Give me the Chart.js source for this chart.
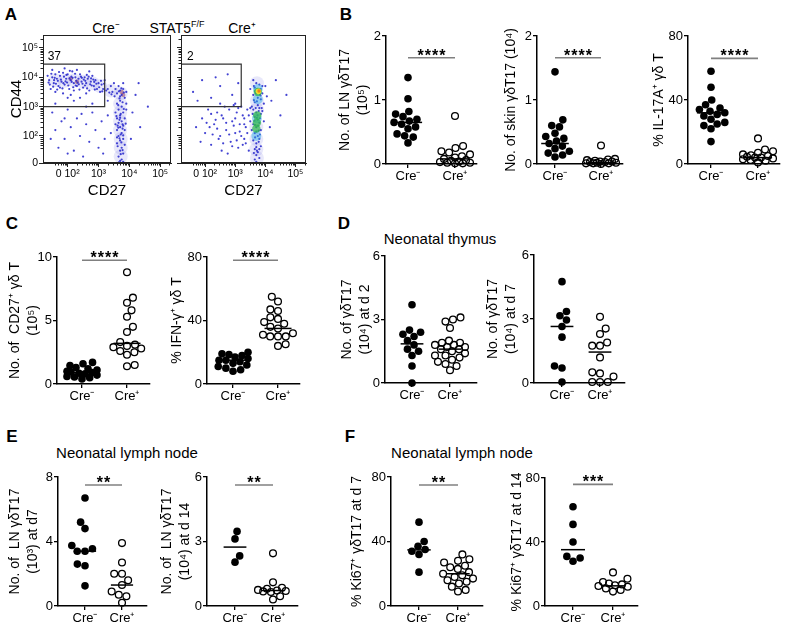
<!DOCTYPE html>
<html><head><meta charset="utf-8">
<script src="https://cdn.jsdelivr.net/npm/chart.js"></script>
<style>
html,body{margin:0;padding:0;background:#fff}
body{width:786px;height:630px;position:relative;overflow:hidden;font-family:"Liberation Sans",Arial,Helvetica,sans-serif;color:#000}
canvas{position:absolute}
.t{position:absolute;transform:translate(-50%,-50%);white-space:nowrap;line-height:1}
.p{position:absolute;transform:translate(-50%,-50%);font-weight:bold;font-size:17px;line-height:1}
sup{font-size:9px;vertical-align:6px;line-height:0}
</style></head><body>
<div class="p" style="left:11px;top:14px">A</div>
<div class="p" style="left:346px;top:14px">B</div>
<div class="p" style="left:12px;top:223px">C</div>
<div class="p" style="left:344px;top:223px">D</div>
<div class="p" style="left:12px;top:436px">E</div>
<div class="p" style="left:350px;top:436px">F</div>
<div class="t" style="left:106px;top:28px;font-size:14px">Cre⁻</div>
<div class="t" style="left:177px;top:28px;font-size:14px">STAT5<sup>F/F</sup></div>
<div class="t" style="left:242px;top:28px;font-size:14px">Cre⁺</div>
<div class="t" style="left:440px;top:238px;font-size:15px">Neonatal thymus</div>
<div class="t" style="left:127px;top:452px;font-size:15px">Neonatal lymph node</div>
<div class="t" style="left:462px;top:452px;font-size:15px">Neonatal lymph node</div>
<script>
// ---------------- DATA ----------------
const categories = ['Cre⁻', 'Cre⁺'];

// Panel A (flow cytometry, axes in log decades)
const flowXTickVals = [2, 3, 4, 5];
const flowXTickLabels = ['0 10²', '10³', '10⁴', '10⁵'];
const flowYTickVals = [1.08, 2, 3, 4, 5];
const flowYTickLabels = ['0', '10²', '10³', '10⁴', '10⁵'];
const gateX = [1.2, 3.2, 3.2, 1.2, 1.2];
const gateY = [3.0, 3.0, 4.45, 4.45, 3.0];
const gatePctNeg = '37';
const gatePctPos = '2';
const creNegEvents = [
[1.4,3.9],[1.5,4.0],[1.55,3.8],[1.6,4.1],[1.65,3.95],[1.7,3.7],[1.75,4.05],[1.8,3.85],[1.85,4.15],[1.9,3.75],
[1.95,3.95],[2.0,4.1],[2.05,3.6],[2.1,3.9],[2.15,4.2],[2.2,3.8],[2.25,4.0],[2.3,3.7],[2.35,3.95],[2.4,4.1],
[2.45,3.85],[2.5,3.65],[2.55,4.0],[2.6,3.8],[2.65,3.95],[2.7,3.55],[2.75,3.85],[2.8,4.05],[2.85,3.7],[2.9,3.9],
[2.95,3.6],[3.0,3.8],[3.05,3.5],[3.1,3.75],[3.15,3.6],[1.45,3.6],[1.6,3.5],[1.85,3.45],[2.1,3.4],[2.4,3.3],
[1.5,4.25],[1.9,4.3],[2.3,4.25],[2.7,4.2],[1.35,4.05],[3.2,3.9],[2.0,3.3],[2.6,3.45],[1.75,3.65],[2.2,3.55],
[1.42,3.75],[1.68,3.88],[1.98,3.82],[2.28,3.88],[2.52,3.92],[2.78,3.72],[3.08,3.88],[1.58,3.98],[2.12,4.02],[2.62,4.08],
[1.38,3.82],[1.47,4.12],[1.53,3.68],[1.62,3.78],[1.72,4.18],[1.78,3.92],[1.83,3.62],[1.88,4.02],[1.93,3.86],[2.02,3.72],
[2.07,4.22],[2.13,3.84],[2.18,3.66],[2.24,4.12],[2.32,3.82],[2.38,3.58],[2.43,4.02],[2.48,3.78],[2.57,3.88],[2.63,3.62],
[2.68,4.02],[2.73,3.76],[2.83,3.92],[2.88,3.58],[2.93,3.78],[3.02,3.66],[3.12,3.52],[3.18,3.78],[1.66,3.58],[1.96,4.08],
[2.26,3.72],[2.56,3.72],[2.86,3.84],[1.56,3.9],[2.16,3.98],[2.46,3.98],[2.76,3.96],[1.86,3.8],[2.06,3.96],[2.36,3.76],
[3.3,3.6],[3.4,3.7],[3.45,3.5],[3.5,3.8],[3.55,3.6],[3.6,3.45],[3.65,3.7],[3.7,3.55],[3.75,3.4],[3.8,3.6],
[3.85,3.3],[3.9,3.5],[3.7,3.2],[3.6,3.1],[3.75,3.0],[3.65,2.9],[3.8,2.8],[3.7,2.7],[3.6,2.6],[3.75,2.5],
[3.65,2.45],[3.8,2.35],[3.7,2.3],[3.6,2.2],[3.75,2.1],[3.65,2.0],[3.8,1.9],[3.7,1.85],[3.6,1.75],[3.75,1.6],
[3.7,1.5],[3.8,1.4],[3.65,1.3],[3.75,1.2],[3.85,2.6],[3.55,2.4],[3.9,3.1],[3.85,2.2],[3.55,2.8],[3.7,3.35],
[3.8,3.8],[3.9,2.9],[3.6,1.95],[3.85,1.7],[3.7,1.15],[3.68,2.55],[3.72,2.75],[3.78,2.25],[3.62,2.35],[3.74,1.78],
[3.66,3.52],[3.74,3.62],[3.82,3.48],[3.68,3.28],[3.78,3.15],[3.64,3.05],[3.82,2.92],[3.7,2.62],[3.78,2.4],[3.64,2.28],
[3.72,2.05],[3.8,2.02],[3.68,1.92],[3.62,1.65],[3.78,1.52],[3.72,1.38],[3.66,1.1],[3.8,1.12],[3.58,2.68],[3.88,2.42],
[3.52,3.35],[3.42,3.42],[3.35,3.48],[3.25,3.55],
[1.5,2.8],[1.6,2.2],[1.7,1.6],[1.8,2.5],[1.9,1.9],[2.0,2.9],[2.1,2.3],[2.2,1.5],[2.3,2.6],[2.4,2.0],
[2.5,1.3],[2.6,2.4],[2.7,1.8],[2.8,2.8],[2.9,2.2],[3.0,1.6],[3.1,2.5],[3.2,1.9],[3.3,2.7],[3.4,2.1],
[1.6,3.1],[2.2,3.2],[2.8,3.1],[3.3,3.2],[1.45,1.9],[2.0,1.4],[2.6,3.0],[3.15,1.4],[1.9,2.6],[2.45,2.75],
[4.1,2.8],[4.2,3.4],[4.35,2.3],[4.6,3.0],[4.05,1.9],[4.3,3.8]
];
// density: [x, y, level]
const creNegDensity = [
[1.6,3.9,1],[1.9,3.88,1],[2.2,3.9,1],[2.5,3.85,1],[2.8,3.8,1],[3.05,3.7,1],[3.4,3.55,1],
[3.72,3.45,1],[3.7,3.1,1],[3.7,2.8,1],[3.7,2.5,1],[3.7,2.2,1],[3.72,1.9,1],[3.72,1.6,1],[3.72,1.3,1],
[2.1,3.95,6],[2.3,3.85,6],[3.8,3.4,6],[3.75,3.5,6]
];
const crePosEvents = [
[1.6,3.5],[1.9,3.9],[2.2,3.3],[2.5,3.7],[2.75,4.1],[2.9,3.4],[3.1,3.8],[2.35,4.0],[1.75,3.2],[3.0,3.1],
[1.9,2.6],[2.0,2.1],[2.1,2.9],[2.2,1.7],[2.3,2.4],[2.4,2.8],[2.5,2.0],[2.55,1.5],[2.6,2.6],[2.7,2.2],
[2.8,2.9],[2.85,1.8],[2.9,2.5],[3.0,2.1],[3.05,2.8],[3.1,1.6],[3.15,2.4],[3.2,2.0],[3.25,2.7],[3.3,1.9],
[3.35,2.3],[3.4,2.9],[3.45,1.5],[3.3,2.6],[3.4,2.1],[2.65,3.0],[2.95,3.05],[2.15,2.3],[2.45,1.9],[3.5,2.5],
[1.7,2.3],[1.85,1.8],[2.75,1.4],[3.2,3.0],[3.5,2.95],[2.35,2.55],[2.6,1.75],[2.95,2.35],[3.1,2.95],[3.25,1.7],
[2.05,2.45],[2.25,2.05],[2.4,2.25],[2.55,2.7],[2.7,2.45],[2.8,2.05],[3.0,2.6],[3.15,2.15],[3.3,2.4],[3.45,2.7],
[2.5,3.1],[2.2,2.75],[3.05,1.85],[2.9,1.65],[3.35,1.75],
[3.6,3.9],[3.7,3.8],[3.8,3.75],[3.65,3.65],[3.85,3.6],[3.7,3.55],[3.9,3.45],[3.6,3.4],[3.75,3.3],[3.85,3.25],
[3.65,3.15],[3.75,3.05],[3.8,2.95],[3.6,2.9],[3.7,2.8],[3.85,2.75],[3.65,2.65],[3.75,2.55],[3.8,2.45],[3.6,2.4],
[3.7,2.3],[3.85,2.2],[3.65,2.1],[3.75,2.0],[3.8,1.9],[3.6,1.85],[3.7,1.75],[3.85,1.65],[3.65,1.55],[3.75,1.45],
[3.7,1.35],[3.8,1.25],[3.65,1.2],[3.55,3.0],[3.95,3.1],[3.95,2.5],[3.55,2.2],[4.0,3.7],[3.5,3.6],[4.05,3.35],
[3.68,3.48],[3.82,3.42],[3.72,2.62],[3.66,2.38],[3.78,2.18],[3.7,1.62],[3.62,3.22],[3.9,2.85],
[3.7,3.45],[3.8,3.55],[3.74,3.6],[3.66,3.52],[3.84,3.38],[3.72,3.18],[3.68,2.95],[3.78,2.85],[3.74,2.7],[3.82,2.6],
[3.64,2.52],[3.76,2.35],[3.7,2.15],[3.82,2.05],[3.66,1.95],[3.78,1.8],[3.72,1.5],[3.62,1.42],[3.8,1.55],[3.7,1.12],
[3.88,2.95],[3.58,2.75],[3.9,3.7],[3.62,3.7],
[4.2,3.2],[4.35,3.9],[4.5,2.7],[4.15,2.3],[4.7,3.4]
];
const crePosDensity = [
[3.72,3.8,1],[3.72,3.2,1],[3.72,2.9,1],[3.7,2.3,1],[3.7,1.9,1],[3.7,1.55,1],[3.72,1.25,1],
[3.72,2.6,2],[3.75,3.25,2],[3.7,2.0,2],[3.75,3.6,2],
[3.75,3.5,3],[3.72,2.45,3],[3.7,2.25,3],[3.73,2.7,3],
[3.77,3.52,4],
[3.79,3.53,5]
];

// Panel B
const lnNeg = [1.35, 1.02, 0.82, 0.78, 0.74, 0.70, 0.67, 0.65, 0.62, 0.58, 0.55, 0.47, 0.44, 0.42, 0.33];
const lnPos = [0.75, 0.28, 0.25, 0.20, 0.18, 0.15, 0.12, 0.10, 0.08, 0.06, 0.05, 0.04, 0.03, 0.02, 0.02, 0.01, 0.01];
const lnLines = [0.65, 0.08];
const lnTicks = [0, 1, 2];
const skinNeg = [1.44, 0.69, 0.60, 0.58, 0.48, 0.43, 0.40, 0.36, 0.32, 0.28, 0.24, 0.20, 0.17, 0.14, 0.11];
const skinPos = [0.29, 0.08, 0.07, 0.06, 0.05, 0.04, 0.04, 0.03, 0.03, 0.02, 0.02, 0.01, 0.01, 0.01, 0.0];
const skinLines = [0.32, 0.02];
const skinTicks = [0, 1, 2];
const il17Neg = [58, 48, 40, 37, 35, 34, 33, 32, 31, 30, 28, 26, 25, 24, 22, 14];
const il17Pos = [16, 9, 8, 7, 6, 5.5, 5, 4.5, 4, 4, 3.5, 3, 2.5, 2, 1];
const il17Lines = [32, 4];
const pctTicks = [0, 40, 80];
// Panel C
const cd27Neg = [1.7, 1.6, 1.45, 1.3, 1.2, 1.1, 1.0, 0.95, 0.9, 0.85, 0.8, 0.7, 0.6, 0.55, 0.5, 0.4];
const cd27Pos = [8.8, 6.8, 6.4, 5.8, 5.3, 4.5, 4.1, 3.3, 3.1, 3.0, 2.9, 2.8, 2.6, 2.5, 2.3, 1.5, 1.4];
const cd27Lines = [0.9, 3.2];
const cd27Ticks = [0, 5, 10];
const ifnNeg = [20, 19, 18.5, 18, 17, 16, 15, 15, 14, 13, 12, 11, 10, 9, 8];
const ifnPos = [55, 52, 47, 46, 42, 41, 39, 38, 36, 35, 32, 31, 30, 30, 30, 25, 24];
const ifnLines = [15, 35];
// Panel D
const d2Neg = [3.7, 2.5, 2.4, 2.3, 2.2, 2.0, 1.8, 1.6, 1.5, 1.3, 0.8, 0.0];
const d2Pos = [3.1, 3.0, 2.9, 2.6, 2.0, 1.9, 1.9, 1.8, 1.8, 1.7, 1.7, 1.6, 1.6, 1.5, 1.4, 1.3, 1.3, 1.2, 1.1, 1.0, 0.9, 0.8, 0.6];
const d2Lines = [1.85, 1.6];
const d7Neg = [4.75, 3.35, 3.15, 2.95, 2.65, 2.15, 0.8, 0.7, 0.05];
const d7Pos = [3.1, 2.55, 2.3, 1.9, 1.75, 1.75, 1.2, 0.5, 0.45, 0.3, 0.05, 0.05, 0.05];
const d7Lines = [2.65, 1.45];
const thyTicks = [0, 3, 6];
// Panel E
const lnd7Neg = [6.7, 5.2, 4.8, 3.75, 3.55, 3.4, 3.4, 2.6, 2.5, 1.25];
const lnd7Pos = [3.9, 2.7, 2.0, 2.0, 1.6, 1.3, 0.9, 0.7, 0.6, 0.2];
const lnd7Lines = [3.4, 1.3];
const lnd7Ticks = [0, 4, 8];
const lnd14Neg = [3.47, 3.12, 2.33, 2.04];
const lnd14Pos = [2.45, 1.1, 0.85, 0.8, 0.75, 0.72, 0.7, 0.68, 0.65, 0.45, 0.3];
const lnd14Lines = [2.74, 0.72];
const lnd14Ticks = [0, 3, 6];
// Panel F
const ki7Neg = [52, 40, 37, 35, 34, 32, 21];
const ki7Pos = [32, 29, 28, 27, 25, 24, 23, 21, 20, 19, 18, 17, 16, 15, 14, 12, 10, 9];
const ki7Lines = [34.8, 20];
const ki14Neg = [62, 51, 40, 31, 30, 28];
const ki14Pos = [21, 17, 15, 14, 13.5, 13, 12.5, 12, 11, 10, 9];
const ki14Lines = [35.2, 12.6];

// ---------------- RENDERING ----------------
const FONT = "'Liberation Sans', Arial, Helvetica, sans-serif";
Chart.defaults.font.family = FONT;
Chart.defaults.font.size = 13;
Chart.defaults.color = '#000';
Chart.defaults.animation = false;
Chart.defaults.responsive = false;
Chart.defaults.plugins.legend.display = false;
Chart.defaults.plugins.tooltip.enabled = false;

function mk(L, T, W, H) {
  const c = document.createElement('canvas');
  c.width = W; c.height = H;
  c.style.left = L + 'px'; c.style.top = T + 'px';
  c.style.width = W + 'px'; c.style.height = H + 'px';
  document.body.appendChild(c);
  return c.getContext('2d');
}

const starsPlugin = {
  id: 'stars',
  afterDatasetsDraw(chart, args, opts) {
    if (!opts || !opts.text) return;
    const xs = chart.scales.x, ys = chart.scales.y, ctx = chart.ctx;
    ctx.save();
    ctx.font = 'bold 16px ' + FONT;
    try { ctx.letterSpacing = '1px'; } catch (e) {}
    ctx.textAlign = 'center';
    ctx.textBaseline = 'alphabetic';
    ctx.fillStyle = '#000';
    ctx.fillText(opts.text, (xs.getPixelForValue(1) + xs.getPixelForValue(2)) / 2 + 0.5, ys.getPixelForValue(opts.y) + 3);
    ctx.restore();
  }
};

function swarm(chart, groups, maxW) {
  const xs = chart.scales.x, ys = chart.scales.y;
  const unit = xs.getPixelForValue(2) - xs.getPixelForValue(1);
  const D = 7.8;
  groups.forEach((vals, gi) => {
    const placed = [];
    const out = new Array(vals.length);
    const idx = vals.map((v, i) => i).sort((a, b) => vals[a] - vals[b]);
    let flip = 1;
    idx.forEach(i => {
      const py = ys.getPixelForValue(vals[i]);
      const forb = [];
      placed.forEach(p => {
        const dy = Math.abs(p.py - py);
        if (dy < D) { const w = Math.sqrt(D * D - dy * dy); forb.push([p.px - w, p.px + w]); }
      });
      const ok = c => !forb.some(f => c > f[0] + 1e-6 && c < f[1] - 1e-6);
      const cands = [0];
      forb.forEach(f => cands.push(f[0], f[1]));
      cands.sort((a, b) => (Math.abs(a) - Math.abs(b)) || (flip * (a - b)));
      flip = -flip;
      let px = null;
      for (const c of cands) { if (Math.abs(c) <= maxW && ok(c)) { px = c; break; } }
      if (px === null) {
        let best = 0, bd = -1;
        for (let c = -maxW; c <= maxW; c += 1) {
          let md = Infinity;
          placed.forEach(p => { const dd = Math.hypot(p.px - c, p.py - py); if (dd < md) md = dd; });
          if (md > bd) { bd = md; best = c; }
        }
        px = best;
      }
      placed.push({ px, py });
      out[i] = { x: gi + 1 + px / unit, y: vals[i] };
    });
    chart.data.datasets[gi].data = out;
  });
  chart.update('none');
}

function dotPlot(g, d) {
  const T = g.top - 16;
  const W = g.end + 6 - g.L, H = g.zero + 28 - T;
  const ctx = mk(g.L, T, W, H);
  const unit = g.c2 - g.c1;
  const xmin = 1 - (g.c1 - g.ax) / unit;
  const xmax = 2 + (g.end - g.c2) / unit;
  const hw = 0.3;
  const ymax = d.ticks[d.ticks.length - 1];
  const axisGrid = { display: true, drawOnChartArea: false, drawTicks: true, tickLength: 4, color: '#000', lineWidth: 1.3 };
  const datasets = [
    { data: d.neg.map(v => ({ x: 1, y: v })), pointRadius: 3.8, pointBackgroundColor: '#000', pointBorderColor: '#000', pointBorderWidth: 0, clip: false, order: 1 },
    { data: d.pos.map(v => ({ x: 2, y: v })), pointRadius: 3.4, pointBackgroundColor: 'rgba(255,255,255,0)', pointBorderColor: '#000', pointBorderWidth: 1.3, clip: false, order: 1 },
    { data: [{ x: 1 - hw, y: d.lines[0] }, { x: 1 + hw, y: d.lines[0] }], showLine: true, pointRadius: 0, borderColor: '#000', borderWidth: 1.5, clip: false, order: 0 },
    { data: [{ x: 2 - hw, y: d.lines[1] }, { x: 2 + hw, y: d.lines[1] }], showLine: true, pointRadius: 0, borderColor: '#000', borderWidth: 1.5, clip: false, order: 0 }
  ];
  if (d.sig != null) datasets.push({ data: [{ x: 1, y: d.sig }, { x: 2, y: d.sig }], showLine: true, pointRadius: 0, borderColor: '#808080', borderWidth: 1.6, clip: false, order: 0 });
  const chart = new Chart(ctx, {
    type: 'scatter',
    data: { datasets },
    options: {
      layout: { padding: { top: 16, right: 6, left: 0, bottom: 0 } },
      plugins: { stars: d.stars ? { text: d.stars, y: d.sig } : {} },
      scales: {
        x: {
          type: 'linear', min: xmin, max: xmax,
          afterBuildTicks: s => { s.ticks = [{ value: 1 }, { value: 2 }]; },
          ticks: { callback: v => (v === 1 ? categories[0] : v === 2 ? categories[1] : ''), padding: 1, maxRotation: 0, autoSkip: false, font: { size: 13 } },
          grid: axisGrid, border: { display: true, color: '#000', width: 1.5 },
          afterFit: s => { s.height = 28; }
        },
        y: {
          type: 'linear', min: 0, max: ymax,
          afterBuildTicks: s => { s.ticks = d.ticks.map(v => ({ value: v })); },
          ticks: { padding: 1, font: { size: 13 } },
          grid: axisGrid, border: { display: true, color: '#000', width: 1.5 },
          title: { display: true, text: d.title, font: { size: 14, lineHeight: 1.3 }, padding: { top: 0, bottom: 0 } },
          afterFit: s => { s.width = g.ax - g.L; }
        }
      }
    },
    plugins: [starsPlugin]
  });
  swarm(chart, [d.neg, d.pos], d.maxW || 15);
}

// Flow plots
const flowPlugin = {
  id: 'flowbox',
  afterDatasetsDraw(chart, args, opts) {
    const a = chart.chartArea, ctx = chart.ctx, xs = chart.scales.x, ys = chart.scales.y;
    ctx.save();
    ctx.strokeStyle = '#222'; ctx.lineWidth = 1;
    ctx.strokeRect(a.left + 0.5, a.top + 0.5, a.right - a.left - 1, a.bottom - a.top - 1);
    ctx.beginPath();
    for (let dd = 1; dd <= 5; dd++) {
      for (let k = 2; k <= 9; k++) {
        const v = dd + Math.log10(k);
        if (v > xs.min && v < xs.max && v > 1.6) { const p = Math.round(xs.getPixelForValue(v)) + 0.5; ctx.moveTo(p, a.bottom); ctx.lineTo(p, a.bottom + 2.5); }
        if (v > ys.min + 0.3 && v < ys.max && v > 1.6) { const p = Math.round(ys.getPixelForValue(v)) + 0.5; ctx.moveTo(a.left, p); ctx.lineTo(a.left - 2.5, p); }
      }
    }
    ctx.stroke();
    if (opts && opts.text) {
      ctx.fillStyle = '#000';
      ctx.font = '12px ' + FONT;
      ctx.textAlign = 'left'; ctx.textBaseline = 'middle';
      ctx.fillText(opts.text, xs.getPixelForValue(opts.x), ys.getPixelForValue(opts.y));
    }
    ctx.restore();
  }
};
const levelColor = ['', 'rgba(80,80,220,0.13)', 'rgba(40,170,230,0.45)', 'rgba(50,185,80,0.75)', 'rgba(245,225,40,0.95)', 'rgba(240,120,30,0.95)', 'rgba(150,60,90,0.55)'];
const levelRadius = [0, 7, 5, 4.2, 2.8, 1.7, 2.2];

function flowPlot(g, events, density, pct, showY) {
  const ctx = mk(g.L, g.T, g.W, g.H);
  const haze = density.filter(p => p[2] === 1 || p[2] === 6);
  const hot = density.filter(p => p[2] >= 2 && p[2] <= 5);
  const grid = { display: true, drawOnChartArea: false, drawTicks: true, tickLength: 4, color: '#222', lineWidth: 1 };
  new Chart(ctx, {
    type: 'scatter',
    data: {
      datasets: [
        { data: haze.map(p => ({ x: p[0], y: p[1] })), pointRadius: haze.map(p => levelRadius[p[2]]), pointBackgroundColor: haze.map(p => levelColor[p[2]]), pointBorderWidth: 0, order: 5 },
        { data: events.map(p => ({ x: p[0], y: p[1] })), pointRadius: 1.1, pointBackgroundColor: 'rgba(45,45,205,0.9)', pointBorderWidth: 0, order: 3 },
        { data: hot.map(p => ({ x: p[0], y: p[1] })), pointRadius: hot.map(p => levelRadius[p[2]]), pointBackgroundColor: hot.map(p => levelColor[p[2]]), pointBorderWidth: 0, order: 2 },
        { data: gateX.map((x, i) => ({ x, y: gateY[i] })), showLine: true, pointRadius: 0, borderColor: '#333', borderWidth: 1.2, order: 1 }
      ]
    },
    options: {
      layout: { padding: { top: g.boxT - g.T, right: g.L + g.W - g.boxR, left: 0, bottom: 0 } },
      plugins: { flowbox: { text: pct, x: g.pctX, y: 4.69 } },
      scales: {
        x: {
          type: 'linear', min: 1.2, max: 5.35,
          afterBuildTicks: s => { s.ticks = flowXTickVals.map(v => ({ value: v })); },
          ticks: { callback: (v) => flowXTickLabels[flowXTickVals.indexOf(v)], padding: 1, maxRotation: 0, autoSkip: false, font: { size: 10.5 } },
          grid, border: { display: true, color: '#222', width: 1 },
          title: { display: true, text: 'CD27', font: { size: 15, lineHeight: 1.2 }, padding: { top: 0, bottom: 0 } },
          afterFit: s => { s.height = g.T + g.H - g.boxB; }
        },
        y: {
          type: 'linear', min: 1.08, max: 5.44,
          afterBuildTicks: s => { s.ticks = flowYTickVals.map(v => ({ value: v })); },
          ticks: { display: showY, callback: (v) => flowYTickLabels[flowYTickVals.indexOf(v)], padding: 1, font: { size: 10.5 } },
          grid, border: { display: true, color: '#222', width: 1 },
          title: { display: showY, text: 'CD44', font: { size: 15, lineHeight: 1.2 }, padding: { top: 7.5, bottom: 0 } },
          afterFit: s => { s.width = g.boxL - g.L; }
        }
      }
    },
    plugins: [flowPlugin]
  });
}

flowPlot({ L: 0, T: 20, W: 178, H: 180, boxL: 43, boxR: 172, boxT: 35, boxB: 163, pctX: 1.35 }, creNegEvents, creNegDensity, gatePctNeg, true);
flowPlot({ L: 174, T: 20, W: 139, H: 180, boxL: 178, boxR: 307, boxT: 35, boxB: 163, pctX: 1.4 }, crePosEvents, crePosDensity, gatePctPos, false);

dotPlot({ L: 336, ax: 386, end: 477, top: 36, zero: 164, c1: 408, c2: 455 }, { neg: lnNeg, pos: lnPos, lines: lnLines, ticks: lnTicks, title: ['No. of LN γδT17', '(10⁵)'], sig: 1.66, stars: '****' });
dotPlot({ L: 502, ax: 537, end: 623, top: 36, zero: 164, c1: 555, c2: 601 }, { neg: skinNeg, pos: skinPos, lines: skinLines, ticks: skinTicks, title: 'No. of skin γδT17 (10⁴)', sig: 1.66, stars: '****' });
dotPlot({ L: 650, ax: 688, end: 780, top: 36, zero: 164, c1: 711, c2: 758 }, { neg: il17Neg, pos: il17Pos, lines: il17Lines, ticks: pctTicks, title: '% IL-17A⁺ γδ T', sig: 66, stars: '****' });
dotPlot({ L: 6, ax: 57, end: 150, top: 257, zero: 384, c1: 82, c2: 127 }, { neg: cd27Neg, pos: cd27Pos, lines: cd27Lines, ticks: cd27Ticks, title: ['No. of  CD27⁺ γδ T', '(10⁵)'], sig: 9.75, stars: '****' });
dotPlot({ L: 168, ax: 207, end: 300, top: 257, zero: 384, c1: 233, c2: 278 }, { neg: ifnNeg, pos: ifnPos, lines: ifnLines, ticks: pctTicks, title: '% IFN-γ⁺ γδ T', sig: 78, stars: '****' });
dotPlot({ L: 338, ax: 385, end: 477, top: 256, zero: 383, c1: 412, c2: 450 }, { neg: d2Neg, pos: d2Pos, lines: d2Lines, ticks: thyTicks, title: ['No. of γδT17', '(10⁴) at d 2'] });
dotPlot({ L: 484, ax: 534, end: 625, top: 255, zero: 383, c1: 562, c2: 600 }, { neg: d7Neg, pos: d7Pos, lines: d7Lines, ticks: thyTicks, title: ['No. of γδT17', '(10⁴) at d 7'] });
dotPlot({ L: 6, ax: 58, end: 147, top: 477, zero: 606, c1: 85, c2: 122 }, { neg: lnd7Neg, pos: lnd7Pos, lines: lnd7Lines, ticks: lnd7Ticks, title: ['No. of  LN γδT17', '(10³) at d7'], sig: 7.5, stars: '**' });
dotPlot({ L: 158, ax: 207, end: 298, top: 477, zero: 606, c1: 235, c2: 273 }, { neg: lnd14Neg, pos: lnd14Pos, lines: lnd14Lines, ticks: lnd14Ticks, title: ['No. of  LN γδT17', '(10⁴) at d 14'], sig: 5.63, stars: '**' });
dotPlot({ L: 348, ax: 391, end: 483, top: 477, zero: 606, c1: 419, c2: 458 }, { neg: ki7Neg, pos: ki7Pos, lines: ki7Lines, ticks: pctTicks, title: '% Ki67⁺ γδT17 at d 7', sig: 75, stars: '**' });
dotPlot({ L: 508, ax: 545, end: 638, top: 478, zero: 606, c1: 573, c2: 613 }, { neg: ki14Neg, pos: ki14Pos, lines: ki14Lines, ticks: pctTicks, title: '% Ki67⁺ γδT17 at d 14', sig: 76, stars: '***' });
</script>
</body></html>
